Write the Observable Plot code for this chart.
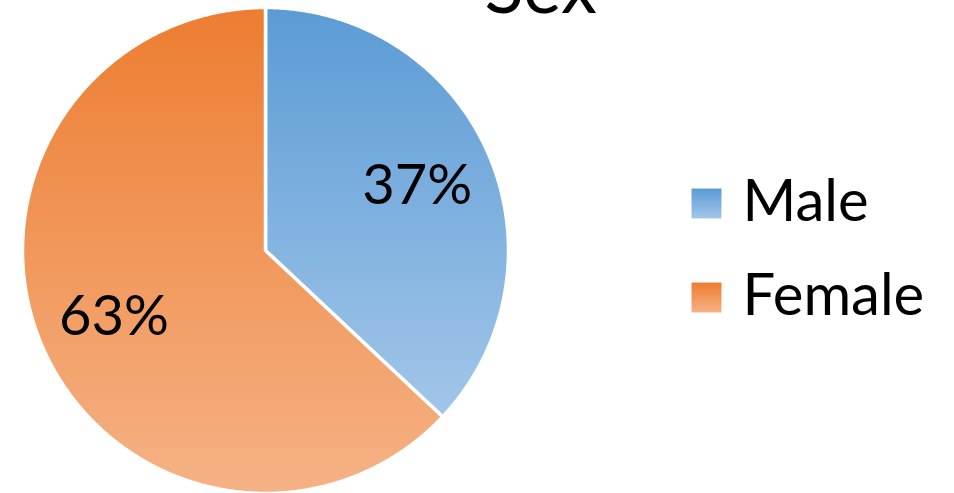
<!DOCTYPE html>
<html><head><meta charset="utf-8">
<script src="https://cdn.jsdelivr.net/npm/d3@7"></script>
<script src="https://cdn.jsdelivr.net/npm/@observablehq/plot@0.6"></script>
<style>html,body{margin:0;padding:0;background:#fff;overflow:hidden}</style>
</head><body><div id="chart"></div>
<script>
const title = "Sex";
const categories = ["Male", "Female"];
const values = [37, 63];
const labels = ["37%", "63%"];
const gradTop = ["#5B9BD5", "#ED7D31"];
const gradBottom = ["#A2C6E9", "#F5B285"];

const pie = d3.pie().sort(null).value(d => d.value)(categories.map((c, i) => ({cat: c, value: values[i], i})));
const pts = [];
pie.forEach(a => {
  pts.push({cat: a.data.cat, x: 0, y: 0});
  const n = Math.max(2, Math.ceil((a.endAngle - a.startAngle) / 0.005));
  for (let k = 0; k <= n; k++) {
    const t = a.startAngle + (a.endAngle - a.startAngle) * k / n;
    pts.push({cat: a.data.cat, x: Math.sin(t), y: Math.cos(t)});
  }
  pts.push({cat: a.data.cat, x: 0, y: 0});
});
const labelPts = pie.map((a, i) => {
  const m = (a.startAngle + a.endAngle) / 2;
  return {label: labels[i], x: 0.68 * Math.sin(m), y: 0.68 * Math.cos(m)};
});

const defsMark = () => {
  const defs = d3.create("svg:defs");
  categories.forEach((c, i) => {
    const g = defs.append("linearGradient").attr("id", "grad" + i)
      .attr("x1", 0).attr("y1", 0).attr("x2", 0).attr("y2", 1);
    g.append("stop").attr("offset", "0%").attr("stop-color", gradTop[i]);
    g.append("stop").attr("offset", "100%").attr("stop-color", gradBottom[i]);
  });
  return defs.node();
};

const font = "Lato, 'Open Sans', sans-serif";
const marks = [defsMark];
categories.forEach((c, i) => {
  marks.push(Plot.line(pts.filter(p => p.cat === c), {x: "x", y: "y", fill: `url(#grad${i})`, stroke: "white", strokeWidth: 3.5, strokeLinejoin: "round"}));
});
marks.push(Plot.text(labelPts, {x: "x", y: "y", text: "label", fontSize: 56, fill: "black", dy: 1}));
marks.push(Plot.text([title], {frameAnchor: "top-left", dx: 484, dy: -39, textAnchor: "start", fontSize: 72, fill: "black"}));
categories.forEach((c, i) => {
  marks.push(Plot.dot([c], {frameAnchor: "top-left", dx: 706, dy: 203 + i * 94, symbol: "square", r: 16.9, fill: `url(#grad${i})`, stroke: "none"}));
  marks.push(Plot.text([c], {frameAnchor: "top-left", dx: 742, dy: 179 + i * 94, textAnchor: "start", fontSize: 58, fill: "black"}));
});

const chart = Plot.plot({
  width: 954, height: 493, margin: 0,
  style: {fontFamily: font, background: "white", overflow: "visible"},
  x: {domain: [-1, 1], range: [22, 508], axis: null},
  y: {domain: [-1, 1], range: [493, 7], axis: null},
  marks
});
document.getElementById("chart").appendChild(chart);
</script></body></html>
